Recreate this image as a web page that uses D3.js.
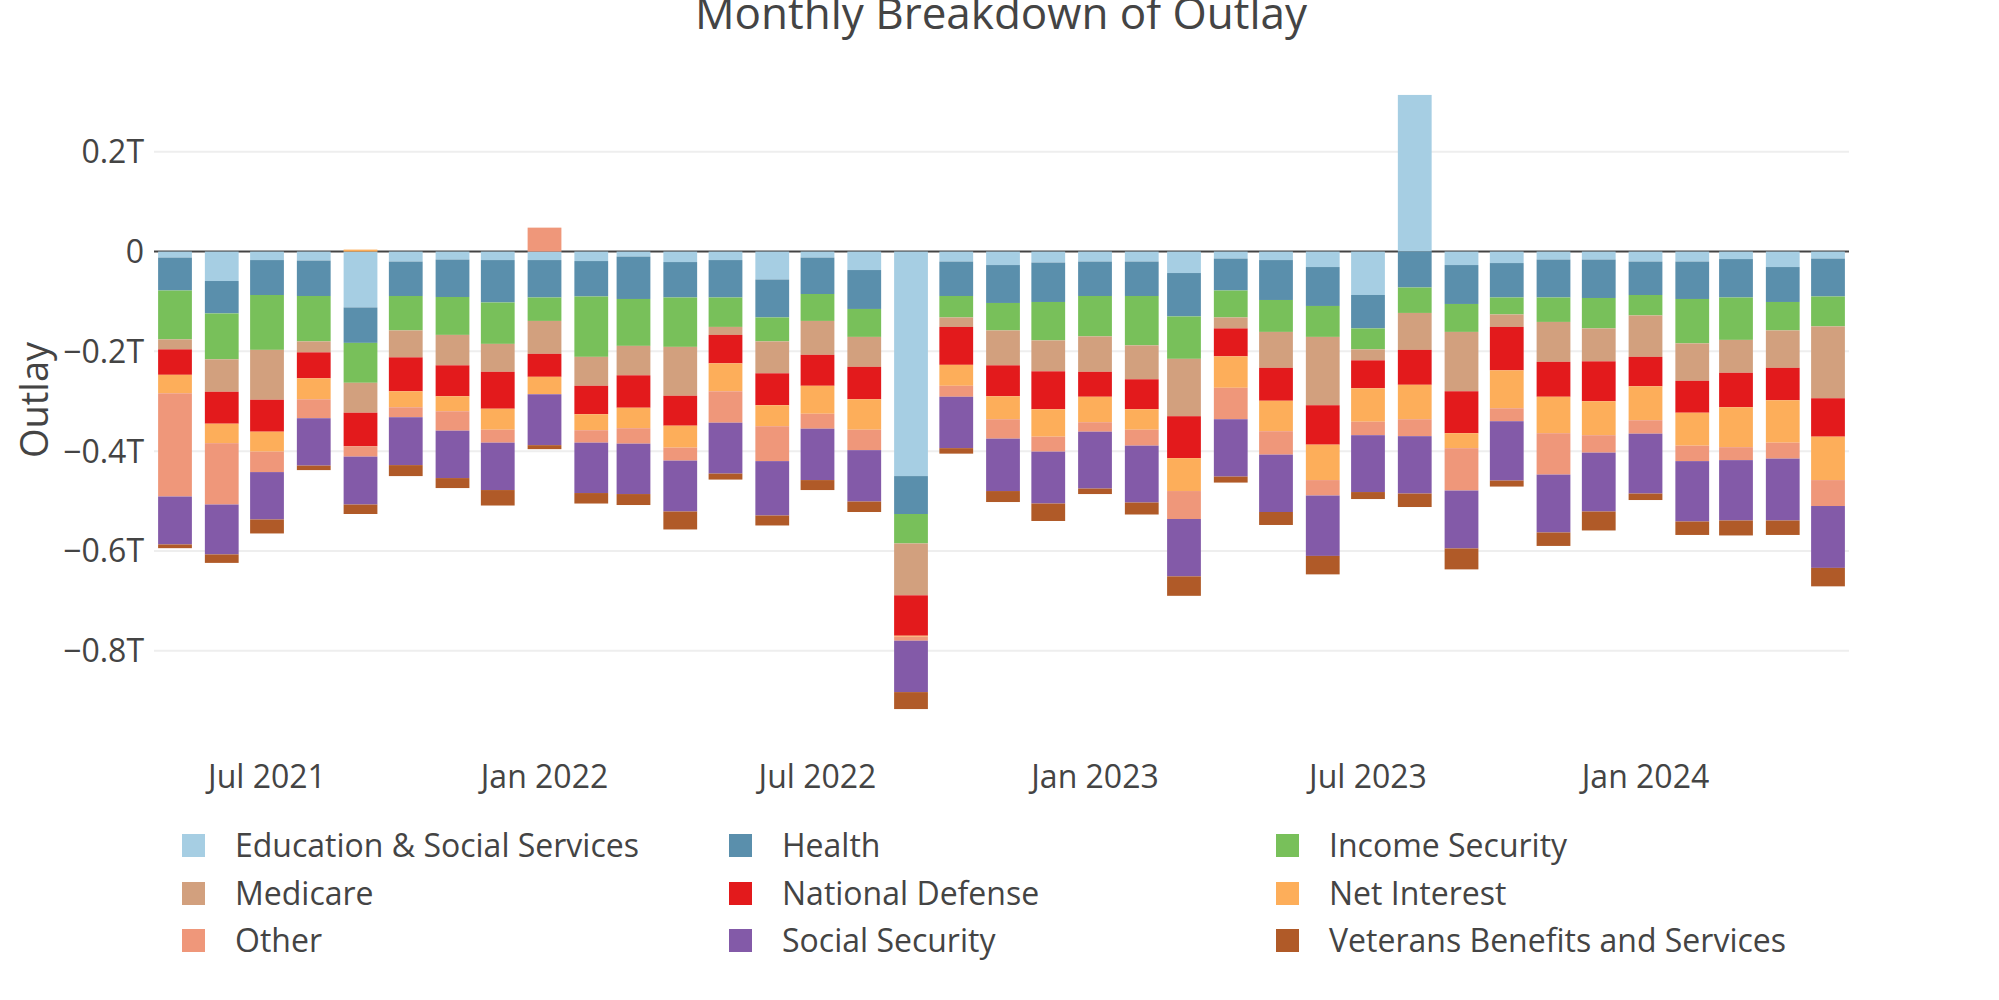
<!DOCTYPE html>
<html>
<head>
<meta charset="utf-8">
<script src="https://cdn.jsdelivr.net/npm/d3@7"></script>
<style>
  html, body { margin: 0; padding: 0; background: #fff; }
  svg { display: block; font-family: "Open Sans", "Noto Sans", sans-serif; }
</style>
</head>
<body>
<svg id="chart" width="1999" height="1000"></svg>
<script>
// ---- Data (values in trillions of dollars) ----
const months = ["2021-05","2021-06","2021-07","2021-08","2021-09","2021-10","2021-11","2021-12",
  "2022-01","2022-02","2022-03","2022-04","2022-05","2022-06","2022-07","2022-08","2022-09","2022-10","2022-11","2022-12",
  "2023-01","2023-02","2023-03","2023-04","2023-05","2023-06","2023-07","2023-08","2023-09","2023-10","2023-11","2023-12",
  "2024-01","2024-02","2024-03","2024-04","2024-05"];

const seriesNames = ["Education & Social Services","Health","Income Security","Medicare","National Defense",
  "Net Interest","Other","Social Security","Veterans Benefits and Services"];

const education = [-0.012,-0.059,-0.017,-0.018,-0.112,-0.020,-0.016,-0.017,-0.017,-0.019,-0.010,-0.021,-0.017,-0.056,-0.012,-0.037,-0.450,-0.020,-0.027,-0.022,-0.020,-0.020,-0.043,-0.014,-0.017,-0.031,-0.087,0.314,-0.027,-0.023,-0.016,-0.016,-0.020,-0.020,-0.015,-0.031,-0.014];
const health = [-0.066,-0.065,-0.070,-0.071,-0.071,-0.069,-0.075,-0.085,-0.075,-0.071,-0.085,-0.071,-0.075,-0.076,-0.073,-0.078,-0.076,-0.069,-0.076,-0.079,-0.069,-0.069,-0.087,-0.064,-0.080,-0.078,-0.067,-0.072,-0.078,-0.069,-0.076,-0.077,-0.067,-0.075,-0.077,-0.070,-0.076];
const incomeSecurity = [-0.098,-0.092,-0.110,-0.091,-0.080,-0.069,-0.076,-0.083,-0.047,-0.121,-0.094,-0.099,-0.059,-0.048,-0.054,-0.056,-0.059,-0.043,-0.055,-0.077,-0.081,-0.099,-0.085,-0.054,-0.064,-0.062,-0.042,-0.051,-0.056,-0.034,-0.049,-0.061,-0.041,-0.089,-0.085,-0.057,-0.060];
const medicare = [-0.020,-0.065,-0.100,-0.022,-0.060,-0.054,-0.061,-0.056,-0.066,-0.058,-0.059,-0.098,-0.016,-0.064,-0.068,-0.060,-0.104,-0.019,-0.070,-0.062,-0.071,-0.068,-0.115,-0.022,-0.072,-0.137,-0.022,-0.074,-0.119,-0.025,-0.080,-0.066,-0.083,-0.075,-0.066,-0.075,-0.144];
const nationalDefense = [-0.051,-0.064,-0.064,-0.052,-0.067,-0.068,-0.062,-0.074,-0.046,-0.057,-0.065,-0.060,-0.057,-0.064,-0.062,-0.065,-0.081,-0.076,-0.062,-0.076,-0.050,-0.060,-0.084,-0.056,-0.066,-0.079,-0.056,-0.070,-0.084,-0.087,-0.070,-0.080,-0.059,-0.064,-0.069,-0.065,-0.077];
const netInterest = [-0.037,-0.039,-0.040,-0.042,0.004,-0.032,-0.030,-0.042,-0.035,-0.032,-0.041,-0.044,-0.056,-0.042,-0.056,-0.061,-0.002,-0.042,-0.046,-0.055,-0.051,-0.041,-0.066,-0.063,-0.061,-0.071,-0.067,-0.069,-0.030,-0.076,-0.073,-0.068,-0.068,-0.066,-0.080,-0.085,-0.087];
const other = [-0.207,-0.123,-0.041,-0.038,-0.021,-0.020,-0.039,-0.026,0.048,-0.025,-0.031,-0.026,-0.063,-0.070,-0.030,-0.041,-0.008,-0.022,-0.039,-0.030,-0.019,-0.032,-0.056,-0.063,-0.047,-0.031,-0.027,-0.034,-0.085,-0.026,-0.083,-0.035,-0.027,-0.031,-0.026,-0.032,-0.052];
const socialSecurity = [-0.096,-0.100,-0.095,-0.095,-0.096,-0.096,-0.095,-0.095,-0.102,-0.101,-0.101,-0.102,-0.102,-0.109,-0.103,-0.103,-0.103,-0.103,-0.105,-0.104,-0.114,-0.114,-0.115,-0.115,-0.115,-0.121,-0.114,-0.115,-0.116,-0.119,-0.116,-0.118,-0.120,-0.121,-0.121,-0.124,-0.124];
const veterans = [-0.0075,-0.017,-0.028,-0.009,-0.019,-0.022,-0.020,-0.031,-0.008,-0.021,-0.022,-0.036,-0.012,-0.020,-0.020,-0.021,-0.034,-0.011,-0.022,-0.035,-0.011,-0.024,-0.039,-0.012,-0.026,-0.037,-0.014,-0.027,-0.042,-0.012,-0.027,-0.038,-0.013,-0.027,-0.030,-0.029,-0.037];

const seriesValues = [education, health, incomeSecurity, medicare, nationalDefense, netInterest, other, socialSecurity, veterans];
const colors = ["#a6cee3","#5a8fac","#78c05a","#d2a07e","#e31a1c","#fdae5a","#ef977a","#835aa8","#b05a28"];

const yTicks = [0.2, 0, -0.2, -0.4, -0.6, -0.8];
const xTickLabels = ["Jul 2021","Jan 2022","Jul 2022","Jan 2023","Jul 2023","Jan 2024"];
const xTickDates = ["2021-07","2022-01","2022-07","2023-01","2023-07","2024-01"];

// ---- Build table ----
const parseMonth = s => { const [y, m] = s.split("-").map(Number); return new Date(Date.UTC(y, m - 1, 1)); };
const table = months.map((m, i) => {
  const row = { date: parseMonth(m) };
  seriesNames.forEach((n, k) => row[n] = seriesValues[k][i]);
  return row;
});

const stacked = d3.stack().keys(seriesNames).offset(d3.stackOffsetDiverging)(table);

// ---- Scales ----
const svg = d3.select("#chart");
const plotLeft = 154, plotRight = 1849;
const x = d3.scaleUtc().domain([parseMonth(months[0]), parseMonth(months[months.length - 1])]).range([175, 1828]);
const y = d3.scaleLinear().domain([-0.978, 0.376]).range([739.5, 64]);
const barW = (x(new Date(Date.UTC(2021, 4, 29))) - x(new Date(Date.UTC(2021, 4, 1)))) * 0.8;

const fmt = v => v === 0 ? "0" : d3.format(".1f")(v) + "T";

// gridlines
svg.append("g").selectAll("line").data(yTicks.filter(d => d !== 0)).join("line")
  .attr("x1", plotLeft).attr("x2", plotRight)
  .attr("y1", d => y(d)).attr("y2", d => y(d))
  .attr("stroke", "#eeeeee").attr("stroke-width", 2);

// zero line
svg.append("line").attr("x1", plotLeft).attr("x2", plotRight)
  .attr("y1", y(0)).attr("y2", y(0)).attr("stroke", "#444").attr("stroke-width", 2);

// bars
svg.append("g").selectAll("g").data(stacked).join("g")
  .attr("fill", (d, i) => colors[i])
  .selectAll("rect").data(d => d).join("rect")
  .attr("x", d => x(d.data.date) - barW / 2)
  .attr("width", barW)
  .attr("y", d => y(Math.max(d[0], d[1])))
  .attr("height", d => Math.abs(y(d[0]) - y(d[1])));

// y axis labels
svg.append("g").selectAll("text").data(yTicks).join("text")
  .attr("x", 144).attr("y", d => y(d)).attr("dy", "0.36em")
  .attr("text-anchor", "end").attr("font-size", 32).attr("fill", "#444")
  .text(fmt);

// x axis labels
svg.append("g").selectAll("text").data(xTickDates).join("text")
  .attr("x", d => x(parseMonth(d))).attr("y", 788)
  .attr("text-anchor", "middle").attr("font-size", 32).attr("fill", "#444")
  .text((d, i) => xTickLabels[i]);

// y axis title
svg.append("text").attr("transform", "translate(48,400) rotate(-90)")
  .attr("text-anchor", "middle").attr("font-size", 38).attr("fill", "#444").text("Outlay");

// title
svg.append("text").attr("x", 1001).attr("y", 29).attr("text-anchor", "middle")
  .attr("font-size", 44).attr("fill", "#444").text("Monthly Breakdown of Outlay");

// legend
const colX = [182, 729, 1276];
const rowY = [857, 905, 952];
const leg = svg.append("g").selectAll("g").data(seriesNames).join("g")
  .attr("transform", (d, i) => `translate(${colX[i % 3]},${rowY[Math.floor(i / 3)]})`);
leg.append("rect").attr("x", 0).attr("y", -23).attr("width", 23).attr("height", 23)
  .attr("fill", (d, i) => colors[i]);
leg.append("text").attr("x", 53).attr("y", 0).attr("font-size", 32).attr("fill", "#444").text(d => d);
</script>
</body>
</html>
